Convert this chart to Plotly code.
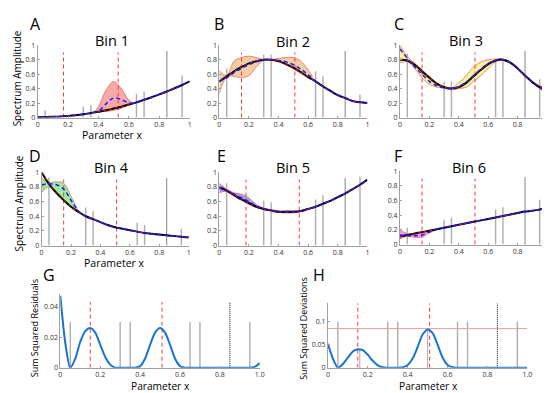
import plotly.graph_objects as go

W, H = 550, 393
FONT = "Open Sans"

# ---------------- data ----------------
x_grid = [0, 0.05, 0.1, 0.15, 0.2, 0.25, 0.3, 0.35, 0.4, 0.45, 0.5,
          0.55, 0.6, 0.65, 0.7, 0.75, 0.8, 0.85, 0.9, 0.95, 1.0]
stem_x = [0.05, 0.3, 0.35, 0.65, 0.7, 0.95]
dotted_x = 0.85

bin_titles = ["Bin 1", "Bin 2", "Bin 3", "Bin 4", "Bin 5", "Bin 6"]
panel_letters = ["A", "B", "C", "D", "E", "F"]

true_1 = [0.005, 0.006, 0.01, 0.015, 0.022, 0.032, 0.045, 0.062, 0.08, 0.1, 0.125,
          0.15, 0.18, 0.21, 0.245, 0.28, 0.32, 0.36, 0.405, 0.45, 0.5]
mean_1 = [0.005, 0.006, 0.01, 0.015, 0.022, 0.032, 0.045, 0.062, 0.09, 0.19, 0.27,
          0.25, 0.2, 0.21, 0.245, 0.28, 0.32, 0.36, 0.405, 0.45, 0.5]
band_x_1 = [0.37, 0.4, 0.45, 0.5, 0.55, 0.6, 0.63]
band_hi_1 = [0.075, 0.15, 0.38, 0.5, 0.4, 0.24, 0.2]
band_lo_1 = [0.07, 0.075, 0.085, 0.1, 0.13, 0.17, 0.19]
stem_h_1 = [0.1, 0.15, 0.17, 0.33, 0.36, 0.58]
red_v_1 = [0.17, 0.53]

true_2 = [0.5, 0.57, 0.64, 0.7, 0.75, 0.78, 0.8, 0.8, 0.78, 0.74, 0.69,
          0.63, 0.56, 0.5, 0.43, 0.37, 0.31, 0.27, 0.23, 0.21, 0.2]
mean_2 = [0.5, 0.55, 0.62, 0.68, 0.73, 0.77, 0.8, 0.8, 0.79, 0.77, 0.73,
          0.67, 0.59, 0.5, 0.43, 0.37, 0.31, 0.27, 0.23, 0.21, 0.2]
band_x_2 = [0, 0.05, 0.1, 0.15, 0.2, 0.25, 0.3, 0.35, 0.4, 0.45, 0.5, 0.55, 0.6, 0.63]
band_hi_2 = [0.65, 0.58, 0.78, 0.83, 0.85, 0.83, 0.8, 0.8, 0.82, 0.83, 0.83, 0.78, 0.66, 0.56]
band_lo_2 = [0.33, 0.56, 0.57, 0.55, 0.58, 0.7, 0.79, 0.79, 0.77, 0.73, 0.67, 0.61, 0.55, 0.54]
stem_h_2 = [0.68, 0.87, 0.87, 0.64, 0.57, 0.32]
red_v_2 = [0.15, 0.51]

true_3 = [0.8, 0.79, 0.73, 0.64, 0.55, 0.47, 0.42, 0.4, 0.42, 0.48, 0.57,
          0.66, 0.74, 0.79, 0.8, 0.76, 0.68, 0.58, 0.49, 0.42, 0.4]
mean_3 = [0.95, 0.82, 0.7, 0.6, 0.5, 0.44, 0.41, 0.4, 0.43, 0.49, 0.58,
          0.67, 0.75, 0.79, 0.8, 0.76, 0.68, 0.58, 0.49, 0.41, 0.35]
band_x_3 = x_grid
band_hi_3 = [1.0, 0.85, 0.75, 0.66, 0.57, 0.48, 0.43, 0.41, 0.48, 0.58, 0.7,
             0.77, 0.8, 0.81, 0.81, 0.77, 0.69, 0.59, 0.5, 0.44, 0.42]
band_lo_3 = [0.76, 0.77, 0.68, 0.55, 0.46, 0.42, 0.41, 0.39, 0.4, 0.42, 0.5,
             0.58, 0.68, 0.77, 0.79, 0.75, 0.67, 0.57, 0.48, 0.4, 0.35]
stem_h_3 = [0.88, 0.5, 0.5, 0.8, 0.8, 0.53]
red_v_3 = [0.15, 0.51]

true_4 = [1.0, 0.84, 0.72, 0.62, 0.53, 0.46, 0.4, 0.36, 0.32, 0.28, 0.25,
          0.23, 0.21, 0.19, 0.17, 0.16, 0.15, 0.14, 0.13, 0.12, 0.11]
mean_4 = [0.83, 0.84, 0.83, 0.77, 0.62, 0.47, 0.4, 0.36, 0.32, 0.28, 0.25,
          0.23, 0.21, 0.19, 0.17, 0.16, 0.15, 0.14, 0.13, 0.12, 0.11]
band_x_4 = [0, 0.05, 0.1, 0.15, 0.2, 0.25]
band_hi_4 = [0.92, 0.86, 0.87, 0.85, 0.67, 0.47]
band_lo_4 = [0.72, 0.8, 0.72, 0.62, 0.53, 0.45]
stem_h_4 = [0.93, 0.52, 0.47, 0.31, 0.28, 0.23]
red_v_4 = [0.15, 0.51]

true_5 = [0.8, 0.75, 0.69, 0.63, 0.58, 0.53, 0.5, 0.48, 0.46, 0.46, 0.46,
          0.47, 0.5, 0.53, 0.57, 0.61, 0.66, 0.71, 0.77, 0.83, 0.9]
mean_5 = [0.78, 0.75, 0.7, 0.65, 0.6, 0.54, 0.5, 0.48, 0.46, 0.46, 0.46,
          0.47, 0.5, 0.53, 0.57, 0.61, 0.66, 0.71, 0.77, 0.83, 0.9]
band_x_5 = [0, 0.05, 0.1, 0.15, 0.2, 0.25, 0.3, 0.35, 0.4, 0.45, 0.5, 0.55, 0.6]
band_hi_5 = [0.85, 0.77, 0.72, 0.7, 0.65, 0.56, 0.51, 0.49, 0.475, 0.475, 0.475, 0.48, 0.505]
band_lo_5 = [0.72, 0.74, 0.67, 0.62, 0.56, 0.52, 0.49, 0.47, 0.45, 0.445, 0.445, 0.46, 0.495]
stem_h_5 = [0.85, 0.61, 0.59, 0.63, 0.69, 0.94]
red_v_5 = [0.18, 0.54]

true_6 = [0.11, 0.13, 0.15, 0.17, 0.19, 0.21, 0.23, 0.25, 0.27, 0.29, 0.31,
          0.33, 0.35, 0.37, 0.39, 0.41, 0.43, 0.45, 0.46, 0.48, 0.5]
mean_6 = [0.13, 0.12, 0.12, 0.13, 0.17, 0.21, 0.23, 0.25, 0.27, 0.29, 0.31,
          0.33, 0.35, 0.37, 0.39, 0.41, 0.43, 0.45, 0.46, 0.48, 0.5]
band_x_6 = [0, 0.05, 0.1, 0.15, 0.2, 0.25]
band_hi_6 = [0.2, 0.15, 0.15, 0.17, 0.19, 0.21]
band_lo_6 = [0.08, 0.11, 0.1, 0.1, 0.16, 0.2]
stem_h_6 = [0.23, 0.34, 0.37, 0.48, 0.51, 0.61]
red_v_6 = [0.15, 0.51]

band_colors = ["rgba(242,110,110,0.6)", "rgba(234,170,100,0.6)", "rgba(240,232,90,0.6)",
               "rgba(90,225,90,0.6)", "rgba(100,100,235,0.6)", "rgba(240,90,240,0.6)"]

bins = [
    (true_1, mean_1, band_x_1, band_hi_1, band_lo_1, stem_h_1, red_v_1),
    (true_2, mean_2, band_x_2, band_hi_2, band_lo_2, stem_h_2, red_v_2),
    (true_3, mean_3, band_x_3, band_hi_3, band_lo_3, stem_h_3, red_v_3),
    (true_4, mean_4, band_x_4, band_hi_4, band_lo_4, stem_h_4, red_v_4),
    (true_5, mean_5, band_x_5, band_hi_5, band_lo_5, stem_h_5, red_v_5),
    (true_6, mean_6, band_x_6, band_hi_6, band_lo_6, stem_h_6, red_v_6),
]

# bottom panels
xg = [0, 0.025, 0.05, 0.075, 0.1, 0.125, 0.15, 0.175, 0.2, 0.225, 0.25, 0.275, 0.3,
      0.325, 0.35, 0.375, 0.4, 0.425, 0.45, 0.475, 0.5, 0.525, 0.55, 0.575, 0.6,
      0.625, 0.65, 0.675, 0.7, 0.725, 0.75, 0.775, 0.8, 0.825, 0.85, 0.875, 0.9,
      0.925, 0.95, 0.975, 1.0]
resid = [0.047, 0.016, 0.0, 0.006, 0.017, 0.024, 0.026, 0.023, 0.015, 0.007, 0.002,
         0.0, 0.0, 0.0, 0.0, 0.0, 0.001, 0.006, 0.015, 0.023, 0.026, 0.023, 0.015,
         0.006, 0.001, 0.0, 0.0, 0.0, 0.0, 0.0, 0.0, 0.0, 0.0, 0.0, 0.0, 0.0, 0.0,
         0.0, 0.0, 0.0005, 0.003]
devs = [0.052, 0.02, 0.0, 0.008, 0.022, 0.035, 0.04, 0.038, 0.028, 0.015, 0.005,
        0.001, 0.0, 0.0, 0.0, 0.001, 0.006, 0.02, 0.045, 0.072, 0.083, 0.075, 0.05,
        0.022, 0.006, 0.001, 0.0, 0.0, 0.0, 0.0, 0.0, 0.0, 0.0, 0.0, 0.0, 0.0, 0.0,
        0.0, 0.0, 0.0, 0.0]
resid_stem_h = 0.03
resid_red_h = 0.043
devs_stem_h = 0.1
devs_red_h = 0.14
devs_threshold = 0.085
devs_peak_x = [0.16, 0.5]
devs_peak_y = [0.04, 0.083]
red_v_g = [0.15, 0.51]
red_v_h = [0.15, 0.51]

# ---------------- layout helpers ----------------
def px_x(p):
    return p / W

def px_y(p):
    return 1 - p / H

# panel pixel boxes: (left, right, top, bottom)
boxes = [
    (28, 182, 33, 107), (212, 362, 33, 107), (395, 544, 33, 107),
    (32, 181, 163, 238), (212, 362, 163, 238), (395, 544, 162, 237),
    (51, 253, 288, 363), (322, 524, 297, 363),
]

fig = go.Figure()
layout = dict(width=W, height=H, margin=dict(l=0, r=0, t=0, b=0),
              paper_bgcolor="white", plot_bgcolor="white", showlegend=False)

tickfont = dict(family=FONT, size=7, color="#333")
axcolor = "#a0a0a0"

def vlines(xs, y0, y1s):
    X, Y = [], []
    for i, xv in enumerate(xs):
        h = y1s[i] if isinstance(y1s, list) else y1s
        X += [xv, xv, None]
        Y += [y0, h, None]
    return X, Y

for i in range(8):
    l, r, t, b = boxes[i]
    xa = "xaxis" if i == 0 else f"xaxis{i+1}"
    ya = "yaxis" if i == 0 else f"yaxis{i+1}"
    xr = "x" if i == 0 else f"x{i+1}"
    yr = "y" if i == 0 else f"y{i+1}"
    if i < 6:
        xt = [0, 0.2, 0.4, 0.6, 0.8, 1]
        xtt = ["0", "0.2", "0.4", "0.6", "0.8", "1"]
        yt, ytt, yrange = xt, xtt, [0, 1]
    else:
        xt = [0, 0.2, 0.4, 0.6, 0.8, 1]
        xtt = ["0", "0.2", "0.4", "0.6", "0.8", "1.0"]
        if i == 6:
            yt, ytt, yrange = [0, 0.02, 0.04], ["0", "0.02", "0.04"], [0, 0.048]
        else:
            yt, ytt, yrange = [0, 0.05, 0.1], ["0", "0.05", "0.1"], [0, 0.14]
    layout[xa] = dict(domain=[px_x(l), px_x(r)], range=[0, 1], anchor=yr,
                      showline=True, linecolor=axcolor, linewidth=1, showgrid=False,
                      zeroline=False, tickvals=xt, ticktext=xtt, tickfont=tickfont,
                      ticks="inside", ticklen=2, tickcolor=axcolor)
    layout[ya] = dict(domain=[px_y(b), px_y(t)], range=yrange, anchor=xr,
                      showline=True, linecolor=axcolor, linewidth=1, showgrid=False,
                      zeroline=False, tickvals=yt, ticktext=ytt, tickfont=tickfont,
                      ticks="inside", ticklen=2, tickcolor=axcolor)

    if i < 6:
        tr, mn, bx, bh, bl, sh, rv = bins[i]
        # band
        fig.add_trace(go.Scatter(x=bx, y=bl, xaxis=xr, yaxis=yr, mode="lines",
                                 line=dict(color="rgba(235,80,60,0.8)", width=0.8, shape="spline"),
                                 hoverinfo="skip"))
        fig.add_trace(go.Scatter(x=bx, y=bh, xaxis=xr, yaxis=yr, mode="lines", fill="tonexty",
                                 fillcolor=band_colors[i],
                                 line=dict(color="rgba(235,80,60,0.8)", width=0.8, shape="spline"),
                                 hoverinfo="skip"))
        # stems
        X, Y = vlines(stem_x, 0, sh)
        fig.add_trace(go.Scatter(x=X, y=Y, xaxis=xr, yaxis=yr, mode="lines",
                                 line=dict(color="#adadad", width=1.4), hoverinfo="skip"))
        X, Y = vlines(rv, 0, 0.9)
        fig.add_trace(go.Scatter(x=X, y=Y, xaxis=xr, yaxis=yr, mode="lines",
                                 line=dict(color="#f23c3c", width=1, dash="4px,3px"), hoverinfo="skip"))
        X, Y = vlines([dotted_x], 0, 0.92)
        fig.add_trace(go.Scatter(x=X, y=Y, xaxis=xr, yaxis=yr, mode="lines",
                                 line=dict(color="#333", width=1.2, dash="1px,1px"), hoverinfo="skip"))
        # curves
        fig.add_trace(go.Scatter(x=x_grid, y=tr, xaxis=xr, yaxis=yr, mode="lines",
                                 line=dict(color="black", width=2, shape="spline"), hoverinfo="skip"))
        fig.add_trace(go.Scatter(x=x_grid, y=tr, xaxis=xr, yaxis=yr, mode="lines",
                                 line=dict(color="#d02020", width=1, dash="3px,3px", shape="spline"),
                                 hoverinfo="skip"))
        fig.add_trace(go.Scatter(x=x_grid, y=mn, xaxis=xr, yaxis=yr, mode="lines",
                                 line=dict(color="#1a1aff", width=1.5, dash="4px,3px", shape="spline"),
                                 hoverinfo="skip"))
    else:
        if i == 6:
            vals, sh, rh, rv = resid, resid_stem_h, resid_red_h, red_v_g
        else:
            vals, sh, rh, rv = devs, devs_stem_h, devs_red_h, red_v_h
        X, Y = vlines(stem_x, 0, sh)
        fig.add_trace(go.Scatter(x=X, y=Y, xaxis=xr, yaxis=yr, mode="lines",
                                 line=dict(color="#adadad", width=1.4), hoverinfo="skip"))
        X, Y = vlines(rv, 0, rh)
        fig.add_trace(go.Scatter(x=X, y=Y, xaxis=xr, yaxis=yr, mode="lines",
                                 line=dict(color="#f23c3c", width=1, dash="4px,3px"), hoverinfo="skip"))
        X, Y = vlines([dotted_x], 0, rh)
        fig.add_trace(go.Scatter(x=X, y=Y, xaxis=xr, yaxis=yr, mode="lines",
                                 line=dict(color="#333", width=1.2, dash="1px,1px"), hoverinfo="skip"))
        if i == 7:
            fig.add_trace(go.Scatter(x=[0, 1], y=[devs_threshold, devs_threshold], xaxis=xr, yaxis=yr,
                                     mode="lines", line=dict(color="#f5a0a0", width=1), hoverinfo="skip"))
            X, Y = vlines(devs_peak_x, 0, devs_peak_y)
            fig.add_trace(go.Scatter(x=X, y=Y, xaxis=xr, yaxis=yr, mode="lines",
                                     line=dict(color="#555", width=1, dash="1px,1px"), hoverinfo="skip"))
        fig.add_trace(go.Scatter(x=xg, y=vals, xaxis=xr, yaxis=yr, mode="lines",
                                 line=dict(color="#1874cd", width=2, shape="spline", smoothing=0.8),
                                 hoverinfo="skip"))

ann = []
def text(s, x, y, size, angle=0):
    ann.append(dict(text=s, x=px_x(x), y=px_y(y), xref="paper", yref="paper",
                    showarrow=False, textangle=angle, xanchor="center", yanchor="middle",
                    borderpad=0, font=dict(family=FONT, size=size, color="black")))

letter_pos = [(26, 11), (212, 11), (394, 11), (25, 146), (214, 146), (393, 146)]
title_pos = [(103, 28), (287, 29), (462, 28), (103, 158), (287, 158), (465, 158)]
for k in range(6):
    text(panel_letters[k], *letter_pos[k], 16)
    text(bin_titles[k], *title_pos[k], 14.5)
text("Spectrum Amplitude", 8, 67, 10, -90)
text("Spectrum Amplitude", 9, 195, 10, -90)
text("Parameter x", 104, 125, 10.5)
text("Parameter x", 106, 256, 10.5)
text("G", 40, 268, 16)
text("H", 313, 268, 16)
text("Sum Squared Residuals", 25, 323, 9, -90)
text("Sum Squared Deviations", 297, 323, 9, -90)
text("Parameter x", 152, 382, 10.2)
text("Parameter x", 424, 382, 10.2)
layout["annotations"] = ann

fig.update_layout(**layout)
fig.write_html("out.html")
